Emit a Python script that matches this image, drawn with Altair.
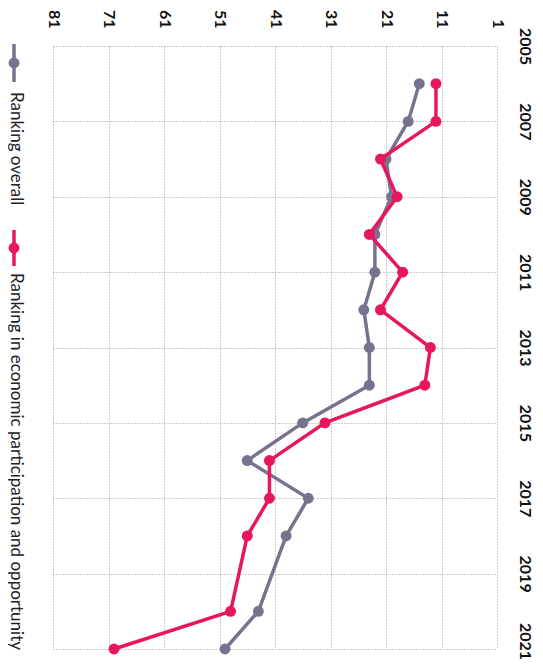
import altair as alt
import pandas as pd

years = [2006, 2007, 2008, 2009, 2010, 2011, 2012, 2013, 2014, 2015, 2016, 2017, 2018, 2020, 2021]
overall = [15, 17, 21, 20, 23, 23, 25, 24, 24, 36, 46, 35, 39, 44, 50]
econ = [12, 12, 22, 19, 24, 18, 22, 13, 14, 32, 42, 42, 46, 49, 70]
series_names = ["Ranking overall", "Ranking in economic participation and opportunity"]
colors = ["#77738f", "#e8175d"]
rank_ticks = [1, 11, 21, 31, 41, 51, 61, 71, 81]
year_ticks = [2005, 2007, 2009, 2011, 2013, 2015, 2017, 2019, 2021]

rows = []
for y, v in zip(years, overall):
    rows.append({"year": y, "rank": v, "series": series_names[0]})
for y, v in zip(years, econ):
    rows.append({"year": y, "rank": v, "series": series_names[1]})
df = pd.DataFrame(rows)

FONT = "Lato"
W, H = 444, 603
TOP = 38

x_enc = alt.X(
    "rank:Q",
    scale=alt.Scale(domain=[1, 81], reverse=True, nice=False, zero=False),
    axis=alt.Axis(
        orient="top", values=rank_ticks, labelAngle=90, labelAlign="right",
        labelBaseline="middle", labelPadding=18, ticks=False, tickSize=0, domain=False,
        grid=True, gridDash=[1, 2], gridColor="#999999", gridWidth=1,
        labelFont=FONT, labelFontSize=16, labelFontWeight="bold", labelColor="#111111",
        title=None, format="d",
    ),
)
y_enc = alt.Y(
    "year:Q",
    scale=alt.Scale(domain=[2005, 2021], reverse=True, nice=False, zero=False),
    axis=alt.Axis(
        orient="right", values=year_ticks, format="d", labelAngle=90, labelAlign="center",
        labelBaseline="alphabetic", labelPadding=22, ticks=False, tickSize=0, domain=False,
        labelOffset={"condition": {"test": "datum.value == 2021", "value": -8}, "value": 0},
        grid=True, gridDash=[1, 2], gridColor="#999999", gridWidth=1,
        labelFont=FONT, labelFontSize=16, labelFontWeight="bold", labelColor="#111111",
        title=None,
    ),
)
color_enc = alt.Color("series:N", scale=alt.Scale(domain=series_names, range=colors), legend=None)
order_enc = alt.Order("year:Q")

base = alt.Chart(df)
layers = []
for name in series_names:
    sub = base.transform_filter(alt.datum.series == name)
    layers.append(sub.mark_line(strokeWidth=3.5).encode(x=x_enc, y=y_enc, color=color_enc, order=order_enc))
    layers.append(sub.mark_point(filled=True, size=120, opacity=1).encode(x=x_enc, y=y_enc, color=color_enc))

# legend (drawn manually, rotated like the chart); page positions minus plot top
off = 8 + TOP
leg_x = -39
leg_items = [
    (series_names[0], colors[0], 44 - off, 82 - off, 63 - off, 92 - off),
    (series_names[1], colors[1], 230 - off, 266 - off, 248 - off, 273 - off),
]
for label, col, r0, r1, dot, tstart in leg_items:
    ldf = pd.DataFrame({"label": [label]})
    lc = alt.Chart(ldf)
    layers.append(lc.mark_rule(color=col, strokeWidth=3.5).encode(
        x=alt.value(leg_x), y=alt.value(r0), y2=alt.value(r1)))
    layers.append(lc.mark_point(filled=True, size=120, opacity=1, color=col).encode(
        x=alt.value(leg_x), y=alt.value(dot)))
    layers.append(lc.mark_text(angle=90, align="left", baseline="middle", font=FONT,
                               fontSize=17, color="#222222").encode(
        x=alt.value(leg_x + 2), y=alt.value(tstart), text="label:N"))

chart = alt.layer(*layers).properties(
    width=W, height=H,
    autosize=alt.AutoSizeParams(type="none"),
    padding={"left": 45, "top": TOP, "right": 38, "bottom": 11},
).configure_view(strokeWidth=0)

chart.save("out.html", embed_options={"renderer": "svg", "actions": False})
